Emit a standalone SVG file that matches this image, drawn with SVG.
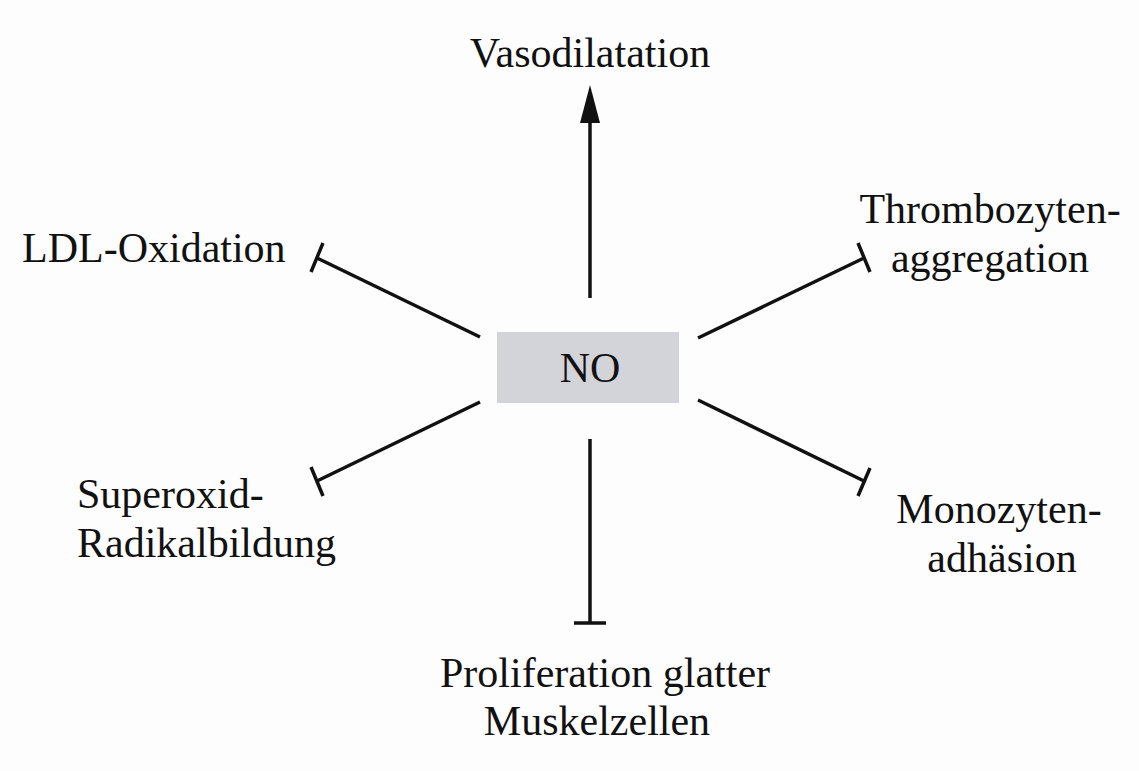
<svg xmlns="http://www.w3.org/2000/svg" width="1139" height="771" viewBox="0 0 1139 771">
<style>
text{font-family:"Liberation Serif","Times New Roman",serif;font-size:42px;fill:#111}
.c{stroke:#111;stroke-width:3.5;fill:none}
</style>
<defs>
<marker id="arr" markerUnits="userSpaceOnUse" markerWidth="40" markerHeight="22" refX="23" refY="11" orient="auto" viewBox="0 0 40 22">
<path d="M0,1 L38,11 L0,21 Z" fill="#111"/>
</marker>
</defs>
<rect width="1139" height="771" fill="#fdfdfd"/>
<g id="connectors">
<line class="c" x1="590" y1="298" x2="590" y2="100" marker-end="url(#arr)"/>
<line class="c" x1="480" y1="337" x2="317" y2="258"/>
<line class="c" x1="311" y1="272" x2="323" y2="243"/>
<line class="c" x1="698" y1="338" x2="864" y2="258"/>
<line class="c" x1="858" y1="243" x2="870" y2="272"/>
<line class="c" x1="480" y1="402" x2="317" y2="481"/>
<line class="c" x1="311" y1="467" x2="323" y2="496"/>
<line class="c" x1="698" y1="400" x2="864" y2="481"/>
<line class="c" x1="870" y1="468" x2="858" y2="496"/>
<line class="c" x1="590" y1="439" x2="590" y2="623"/>
<line class="c" x1="574" y1="623" x2="606" y2="623"/>
</g>
<g id="no">
<rect x="497" y="332" width="182" height="71" fill="#d3d3da"/>
<text x="590" y="382" text-anchor="middle" font-size="46">NO</text>
</g>
<g id="vasodilatation">
<text x="590" y="67" text-anchor="middle" font-size="43">Vasodilatation</text>
</g>
<g id="ldl">
<text x="22" y="262">LDL-Oxidation</text>
</g>
<g id="thrombozyten">
<text x="990" y="223" text-anchor="middle">Thrombozyten-</text>
<text x="990" y="272" text-anchor="middle">aggregation</text>
</g>
<g id="superoxid">
<text x="77" y="508">Superoxid-</text>
<text x="77" y="557">Radikalbildung</text>
</g>
<g id="monozyten">
<text x="999" y="523" text-anchor="middle">Monozyten-</text>
<text x="1002" y="572" text-anchor="middle">adhäsion</text>
</g>
<g id="proliferation">
<text x="605" y="687" text-anchor="middle">Proliferation glatter</text>
<text x="597" y="735" text-anchor="middle">Muskelzellen</text>
</g>
</svg>
